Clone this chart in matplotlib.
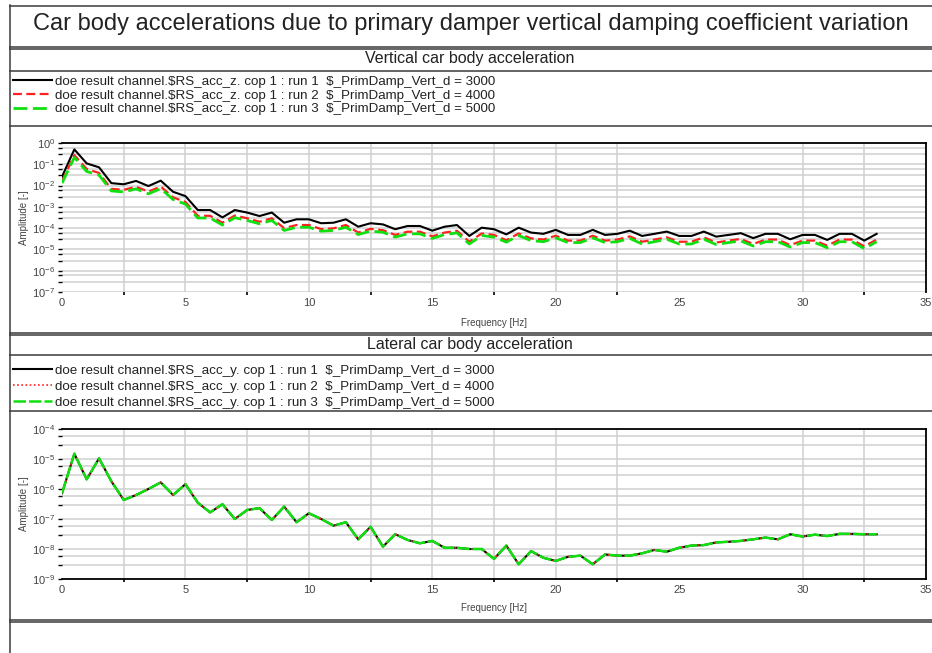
import numpy as np
import matplotlib
matplotlib.use("Agg")
import matplotlib.pyplot as plt
from matplotlib.lines import Line2D
from matplotlib.ticker import LogLocator, FixedLocator, NullFormatter, LogFormatterSciNotation

plt.rcParams['font.family'] = ['Liberation Sans', 'DejaVu Sans']
plt.rcParams['mathtext.default'] = 'regular'

# ---------------- data ----------------
freq = np.arange(0, 33.5, 0.5)

vert_run1 = [2.6e-2, 5.0e-1, 1.1e-1, 7.2e-2, 1.3e-2, 1.15e-2, 1.65e-2, 9.5e-3, 1.7e-2, 5.1e-3,
             3.2e-3, 7.1e-4, 7.1e-4, 3.2e-4, 7.1e-4, 5.4e-4, 3.7e-4, 5.4e-4, 1.8e-4, 2.6e-4,
             2.6e-4, 1.7e-4, 1.8e-4, 2.6e-4, 1.17e-4, 1.7e-4, 1.5e-4, 8.9e-5, 1.26e-4, 1.26e-4,
             7.6e-5, 1.17e-4, 1.4e-4, 4.3e-5, 1.05e-4, 8.9e-5, 5.1e-5, 1.05e-4, 6.2e-5, 5.4e-5,
             8.3e-5, 4.8e-5, 4.8e-5, 8.3e-5, 4.8e-5, 5.4e-5, 7.6e-5, 4.3e-5, 5.4e-5, 6.9e-5,
             4.3e-5, 4.3e-5, 6.9e-5, 4.0e-5, 4.8e-5, 5.8e-5, 3.4e-5, 5.4e-5, 5.4e-5, 3.0e-5,
             4.8e-5, 4.8e-5, 2.8e-5, 5.4e-5, 5.4e-5, 2.6e-5, 5.4e-5]

vert_run2 = [1.6e-2, 2.7e-1, 6.0e-2, 3.9e-2, 7.0e-3, 6.3e-3, 8.8e-3, 5.2e-3, 9.0e-3, 2.8e-3,
             1.7e-3, 3.8e-4, 3.8e-4, 1.8e-4, 3.9e-4, 2.9e-4, 2.0e-4, 2.9e-4, 1.0e-4, 1.4e-4,
             1.4e-4, 9.0e-5, 9.8e-5, 1.4e-4, 6.2e-5, 9.2e-5, 8.0e-5, 4.8e-5, 6.8e-5, 6.8e-5,
             4.1e-5, 6.2e-5, 7.5e-5, 2.3e-5, 5.6e-5, 4.8e-5, 2.7e-5, 5.6e-5, 3.3e-5, 2.9e-5,
             4.4e-5, 2.6e-5, 2.6e-5, 4.4e-5, 2.6e-5, 2.9e-5, 4.1e-5, 2.3e-5, 2.9e-5, 3.7e-5,
             2.3e-5, 2.3e-5, 3.7e-5, 2.1e-5, 2.6e-5, 3.1e-5, 1.8e-5, 2.9e-5, 2.9e-5, 1.6e-5,
             2.6e-5, 2.6e-5, 1.5e-5, 2.9e-5, 2.9e-5, 1.4e-5, 2.9e-5]

vert_run3 = [1.3e-2, 2.1e-1, 4.6e-2, 3.1e-2, 5.6e-3, 5.0e-3, 7.0e-3, 4.1e-3, 7.2e-3, 2.2e-3,
             1.35e-3, 3.0e-4, 3.0e-4, 1.4e-4, 3.1e-4, 2.3e-4, 1.6e-4, 2.3e-4, 7.8e-5, 1.1e-4,
             1.1e-4, 7.2e-5, 7.8e-5, 1.1e-4, 5.0e-5, 7.3e-5, 6.4e-5, 3.8e-5, 5.4e-5, 5.4e-5,
             3.3e-5, 5.0e-5, 6.0e-5, 1.8e-5, 4.5e-5, 3.8e-5, 2.2e-5, 4.5e-5, 2.6e-5, 2.3e-5,
             3.5e-5, 2.1e-5, 2.1e-5, 3.5e-5, 2.1e-5, 2.3e-5, 3.3e-5, 1.8e-5, 2.3e-5, 3.0e-5,
             1.8e-5, 1.8e-5, 3.0e-5, 1.7e-5, 2.1e-5, 2.5e-5, 1.45e-5, 2.3e-5, 2.3e-5, 1.3e-5,
             2.1e-5, 2.1e-5, 1.2e-5, 2.3e-5, 2.3e-5, 1.1e-5, 2.3e-5]

# lateral: the three runs overlap exactly in the picture
lat_run1 = [7.2e-7, 1.5e-5, 2.1e-6, 1.05e-5, 1.8e-6, 4.3e-7, 6.3e-7, 1.0e-6, 1.66e-6, 6.3e-7,
            1.45e-6, 3.5e-7, 1.66e-7, 3.1e-7, 1.0e-7, 2.0e-7, 2.3e-7, 9.3e-8, 2.6e-7, 7.8e-8,
            1.55e-7, 1.0e-7, 6.0e-8, 7.8e-8, 2.1e-8, 5.5e-8, 1.2e-8, 3.1e-8, 2.0e-8, 1.55e-8,
            1.86e-8, 1.1e-8, 1.1e-8, 1.0e-8, 1.0e-8, 4.7e-9, 1.3e-8, 3.1e-9, 8.5e-9, 5.1e-9,
            4.0e-9, 5.5e-9, 6.0e-9, 3.1e-9, 6.6e-9, 6.0e-9, 6.0e-9, 7.2e-9, 9.3e-9, 8.1e-9,
            1.1e-8, 1.3e-8, 1.35e-8, 1.66e-8, 1.74e-8, 1.86e-8, 2.1e-8, 2.4e-8, 2.1e-8, 3.1e-8,
            2.6e-8, 3.0e-8, 2.7e-8, 3.2e-8, 3.2e-8, 3.1e-8, 3.1e-8]
lat_run2 = list(lat_run1)
lat_run3 = list(lat_run1)

title = "Car body accelerations due to primary damper vertical damping coefficient variation"
vert_title = "Vertical car body acceleration"
lat_title = "Lateral car body acceleration"
vert_labels = [r"doe result channel.\$RS_acc_z. cop 1 : run 1  \$_PrimDamp_Vert_d = 3000",
               r"doe result channel.\$RS_acc_z. cop 1 : run 2  \$_PrimDamp_Vert_d = 4000",
               r"doe result channel.\$RS_acc_z. cop 1 : run 3  \$_PrimDamp_Vert_d = 5000"]
lat_labels = [r"doe result channel.\$RS_acc_y. cop 1 : run 1  \$_PrimDamp_Vert_d = 3000",
              r"doe result channel.\$RS_acc_y. cop 1 : run 2  \$_PrimDamp_Vert_d = 4000",
              r"doe result channel.\$RS_acc_y. cop 1 : run 3  \$_PrimDamp_Vert_d = 5000"]
xlabel = "Frequency [Hz]"
ylabel = "Amplitude [-]"
x_ticks = [0, 5, 10, 15, 20, 25, 30, 35]
x_grid = [2.5, 5, 7.5, 10, 12.5, 15, 17.5, 20, 22.5, 30, 32.5]

# ---------------- layout ----------------
W, H = 932, 653
fig = plt.figure(figsize=(W / 100, H / 100), dpi=100)
fig.patch.set_facecolor('white')

def fx(px):
    return px / W

def fy(py):
    return 1 - py / H

def hline(py, x0=10, x1=932, lw=1.1, color='#3a3a3a'):
    fig.add_artist(Line2D([fx(x0), fx(x1)], [fy(py), fy(py)], transform=fig.transFigure,
                          color=color, lw=lw))

def vline(px, y0, y1, lw=1.1, color='#3a3a3a'):
    fig.add_artist(Line2D([fx(px), fx(px)], [fy(y0), fy(y1)], transform=fig.transFigure,
                          color=color, lw=lw))

# frame
vline(10, 5, 653)
for py in [5.5, 46.5, 48.5, 71, 126, 333, 335, 355, 411, 620, 622]:
    hline(py)

TXT = '#222222'
fig.text(fx(471), fy(24), title, ha='center', va='center', fontsize=17, color=TXT)
fig.text(fx(470), fy(59), vert_title, ha='center', va='center', fontsize=11.5, color=TXT)
fig.text(fx(470), fy(344), lat_title, ha='center', va='center', fontsize=11.5, color=TXT)

colors = ['black', '#ff2020', '#10e010']


def make_axes(top, bottom, ylims, data, labels, styles, xlab_y, legend_top, spacing,
              bottom_spine):
    ax = fig.add_axes([fx(62), fy(bottom), fx(926) - fx(62), (bottom - top) / H])
    handles = []
    for d, c, st in zip(data, colors, styles):
        h, = ax.plot(freq, d, color=c, **st)
        handles.append(h)
    ax.set_yscale('log')
    ax.set_xlim(0, 35)
    ax.set_ylim(*ylims)
    ax.yaxis.set_major_locator(LogLocator(base=10, numticks=20))
    ax.yaxis.set_minor_locator(LogLocator(base=10, subs=(3.0, 6.0), numticks=20))
    ax.yaxis.set_minor_formatter(NullFormatter())
    ax.yaxis.set_major_formatter(LogFormatterSciNotation())
    ax.set_xticks(x_ticks)
    ax.xaxis.set_minor_locator(FixedLocator([2.5, 7.5, 12.5, 17.5, 22.5, 32.5]))
    for xv in x_grid:
        ax.axvline(xv, color='#cfcfcf', lw=1.1, zorder=0)
    ax.grid(True, axis='y', which='both', color='#cfcfcf', lw=1.1, zorder=0)
    ax.set_axisbelow(True)
    ax.tick_params(axis='both', which='major', labelsize=8, labelcolor='#444444', length=3,
                   width=1, color='black', pad=2)
    ax.tick_params(axis='y', which='minor', length=3, width=1, color='black')
    ax.tick_params(axis='x', which='major', length=0, pad=4)
    ax.tick_params(axis='x', which='minor', length=2, width=1.2, color='black')
    ax.spines['left'].set_visible(False)
    ax.spines['bottom'].set_visible(bottom_spine)
    for s in ['top', 'right', 'bottom']:
        ax.spines[s].set_linewidth(1.3)
        ax.spines[s].set_color('black')
    ax.set_ylabel(ylabel, fontsize=7, color='#444444', labelpad=1)
    ax.yaxis.set_label_coords(-0.038, 0.5)
    fig.text(fx(494), fy(xlab_y), xlabel, ha='center', va='center', fontsize=7, color='#444444')
    fig.legend(handles, labels, loc='upper left', bbox_to_anchor=(fx(13), fy(legend_top)),
               frameon=False, fontsize=9.6, handlelength=2.95, handletextpad=0.22,
               labelspacing=spacing, borderaxespad=0, borderpad=0, labelcolor=TXT)
    return ax


vert_styles = [dict(lw=1.5, ls='-'),
               dict(lw=1.6, ls=(0, (4, 2))),
               dict(lw=2.0, ls=(0, (5, 2)))]
lat_styles = [dict(lw=1.5, ls='-'),
              dict(lw=1.2, ls=(0, (1, 1.5))),
              dict(lw=1.8, ls=(0, (5, 1.2)))]

make_axes(143, 292, (1e-7, 1e0), [vert_run1, vert_run2, vert_run3], vert_labels,
          vert_styles, 323, 75.6, 0.1, False)
make_axes(429, 579, (1e-9, 1e-4), [lat_run1, lat_run2, lat_run3], lat_labels,
          lat_styles, 608, 364.6, 0.26, True)

fig.savefig('out.png', dpi=100, facecolor='white')
